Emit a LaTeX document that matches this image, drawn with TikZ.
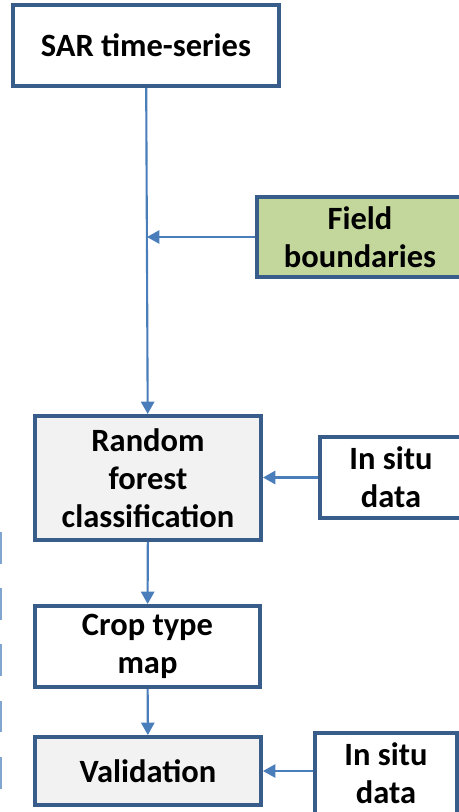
\documentclass[tikz,border=0pt]{standalone}
\usepackage{fontspec}
\setmainfont{Carlito}
\usetikzlibrary{arrows.meta,positioning}
\definecolor{boxline}{RGB}{56,93,138}
\definecolor{flowline}{RGB}{74,126,187}
\definecolor{greenfill}{RGB}{195,214,155}
\definecolor{greyfill}{RGB}{242,242,242}

\begin{document}
\begin{tikzpicture}[
            x=0.02cm,y=-0.02cm,
            box/.style={draw=boxline,line width=2.3pt,fill=white,align=center,
                inner sep=0pt,font=\bfseries\fontsize{18.5}{21.6}\selectfont},
            flow/.style={flowline,line width=1.2pt,-{Triangle[length=7pt,width=7.5pt]}}
        ]
            \useasboundingbox (0,0) rectangle (459,812);
            \clip (0,0) rectangle (459,812);
            % main chain
            \node [box,minimum width=5.32cm,minimum height=1.62cm] (sar) at (146,45.5) {SAR time-series};
            \node [box,fill=greyfill,minimum width=4.52cm,minimum height=2.48cm] (rf) at (148,478) {Random\\forest\\classification};
            \node [box,minimum width=4.5cm,minimum height=1.62cm] (crop) at (147.5,646.5) {Crop type\\map};
            \node [box,fill=greyfill,minimum width=4.52cm,minimum height=1.36cm] (valid) at (148,771) {Validation};
            % side inputs
            \node [box,fill=greenfill,minimum width=4.12cm,minimum height=1.6cm] (field) at (360,237) {Field\\boundaries};
            \node [box,minimum width=2.84cm,minimum height=1.62cm] (situa) at (391,477.5) {In situ\\data};
            \node [box,minimum width=2.84cm,minimum height=1.62cm] (situb) at (386,773.5) {In situ\\data};
            \coordinate (join) at (147,237);
            \draw [flow] (sar) -- (rf);
            \draw [flow] (field.west) -- (join);
            \draw [flow] (situa.west) -- (situa.west -| rf.east);
            \draw [flow] (rf) -- (crop);
            \draw [flow] (crop) -- (valid);
            \draw [flow] (situb.west |- valid.east) -- (valid.east);
            % cut-off line at the left edge
            \draw [flowline!70,line width=1pt,dash pattern=on 18pt off 14pt] (1,532) -- (1,812);
        \end{tikzpicture}
\end{document}
